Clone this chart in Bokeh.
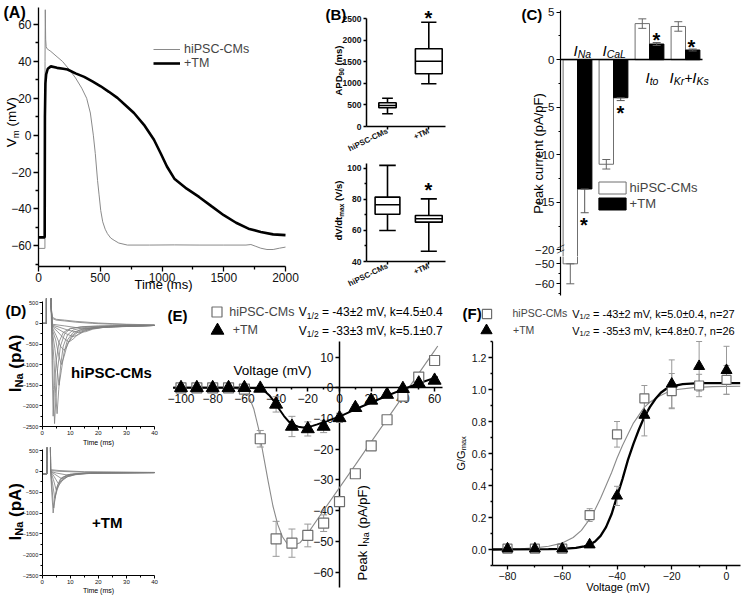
import math
from bokeh.plotting import figure
from bokeh.models import (Range1d, FixedTicker, Label, Legend, LegendItem, PrintfTickFormatter)
from bokeh.layouts import row, column
from bokeh.embed import file_html
from bokeh.resources import INLINE

FONT = "Liberation Sans"

# ======================= DATA =======================
# (A) action potentials: time (ms), Vm (mV)
a_time_hipsc = [0, 51, 52, 53, 55, 58, 62, 70, 100, 150, 194, 250, 300, 350, 390, 420, 444, 460,
                478, 490, 504, 520, 540, 558, 585, 612, 650, 720, 900, 1100, 1300, 1500, 1680,
                1720, 1760, 1800, 1850, 1900, 1950, 2000]
a_vm_hipsc = [-61.4, -61.4, -61.4, 40, 68, 52, 48, 46.8, 45.4, 42.5, 40, 35.5, 31, 25.5, 20, 12, 0, -10,
              -24.5, -32, -40.9, -47, -51, -53.4, -55.8, -57, -58.5, -59.6, -59.6, -59.5, -59.6, -59.6, -59.6,
              -59.3, -60.3, -61.3, -62, -62, -61.3, -60.7]
a_time_tm = [0, 49, 50, 52, 56, 62, 75, 100, 150, 200, 235, 300, 370, 440, 504, 570, 639, 700, 773, 854,
             935, 989, 1040, 1100, 1200, 1300, 1400, 1500, 1600, 1700, 1800, 1900, 2000]
a_vm_tm = [-55.4, -55.4, -55.4, 10, 28, 33, 36, 37.3, 36.5, 36, 35.6, 33.5, 31.6, 29, 26.5, 23.5, 20.2, 16.5, 12, 5.6,
           -2.5, -9.8, -17, -23.6, -29, -33.5, -38.5, -43.4, -47.5, -50.7, -52.5, -53.8, -54.2]

# (B) box plots, order: [hiPSC-CMs, +TM]
b_groups = ["hiPSC-CMs", "+TM"]
apd_min = [295, 991]
apd_q1 = [434, 1223]
apd_median = [487, 1516]
apd_q3 = [550, 1804]
apd_max = [657, 2421]
dvdt_min = [59.9, 46.6]
dvdt_q1 = [70.4, 65.3]
dvdt_median = [76.5, 67.5]
dvdt_q3 = [81.4, 69.6]
dvdt_max = [101.8, 80.3]

# (C) peak currents (pA/pF); error shown below / above the mean
c_currents = ["INa", "ICaL", "Ito", "IKr+IKs"]
c_hipsc_mean = [-50.0, -11.0, 3.8, 3.5]
c_hipsc_err_lo = [10.0, 0.5, 0.5, 0.5]
c_hipsc_err_hi = [0.0, 0.5, 0.5, 0.5]
c_tm_mean = [-13.6, -4.0, 1.65, 1.02]
c_tm_err_lo = [2.5, 0.3, 0.15, 0.1]
c_tm_err_hi = [0.0, 0.0, 0.15, 0.1]

# (D) INa current traces: time (ms), current (pA)
d_stim_time = [0, 1.5, 1.5, 2.9]
d_stim_hipsc = [0, 0, 3000, 3000]
d_hipsc_time = [
    [3.2, 3.6, 4.0, 4.4, 4.9, 5.5, 6.5, 8, 10, 14, 20, 30, 40],
    [3.2, 3.5, 3.9, 4.4, 5, 6, 7.5, 10, 15, 25, 40],
    [3.2, 3.6, 4.2, 4.8, 5.3, 5.9, 6.6, 7.5, 9, 11, 15, 25, 40],
    [3.2, 3.6, 4.5, 5.3, 6.0, 6.8, 7.8, 9, 11, 15, 25, 40],
    [3.2, 3.6, 4.8, 5.8, 6.8, 7.8, 9, 10.5, 13, 18, 30, 40],
    [3.2, 3.6, 5, 6.5, 7.7, 8.5, 9.5, 11, 13, 16, 22, 40],
    [3.2, 3.6, 5.5, 7.5, 9.5, 11, 13, 15, 20, 40],
    [3.2, 3.6, 6, 8.5, 11, 13, 15, 18, 25, 40],
    [3.2, 3.6, 6, 9, 13, 15.5, 18, 22, 30, 40],
    [3.2, 3.6, 8, 12, 16, 19, 24, 32, 40],
    [3.2, 3.6, 5, 8, 12, 18, 25, 40],
    [3.2, 3.6, 5, 8, 12, 20, 30, 40],
]
d_hipsc_current = [
    [400, -600, -1600, -2430, -1800, -1100, -550, -250, -130, -80, -60, -50, -45],
    [400, -900, -2250, -1500, -900, -450, -220, -120, -80, -60, -45],
    [400, -300, -900, -1700, -2190, -1600, -1000, -550, -280, -160, -100, -65, -50],
    [400, -200, -600, -1100, -1500, -1150, -700, -400, -220, -120, -70, -50],
    [400, -150, -400, -750, -1000, -800, -500, -300, -170, -100, -60, -50],
    [400, -100, -300, -550, -650, -600, -450, -300, -200, -140, -90, -50],
    [400, -80, -200, -350, -450, -380, -250, -170, -100, -50],
    [400, -60, -150, -250, -320, -270, -190, -120, -80, -50],
    [400, -40, -90, -160, -220, -200, -140, -95, -70, -50],
    [400, -20, -60, -100, -130, -110, -80, -60, -50],
    [400, 120, 80, 60, 30, 0, -20, -40],
    [400, 150, 100, 80, 50, 10, -20, -35],
]
d_stim_time_tm = [0, 1.7, 1.8, 2.7]
d_stim_tm = [-60, -60, 3000, 3000]
d_tm_time = [
    [3.0, 3.4, 3.9, 4.5, 5.2, 6.5, 9, 15, 40],
    [3.0, 3.5, 4.1, 4.8, 5.6, 7, 10, 18, 40],
    [3.0, 3.7, 4.5, 5.3, 6.3, 8, 11, 20, 40],
    [3.0, 4.0, 5.0, 6.0, 7.5, 9.5, 13, 22, 40],
    [3.0, 4.2, 5.8, 7.0, 9, 12, 16, 40],
    [3.0, 4.5, 7.0, 9, 12, 17, 40],
    [3.0, 5, 9, 13, 20, 40],
    [3.0, 6, 15, 40],
    [3.0, 6, 15, 40],
]
d_tm_current = [
    [0, -500, -1000, -650, -380, -180, -80, -40, -30],
    [0, -400, -880, -560, -320, -150, -70, -35, -30],
    [0, -300, -650, -450, -260, -130, -70, -35, -30],
    [0, -200, -450, -330, -190, -100, -55, -35, -30],
    [0, -120, -300, -230, -130, -70, -45, -30],
    [0, -70, -180, -130, -80, -50, -30],
    [0, -40, -90, -60, -40, -30],
    [20, 0, -20, -30],
    [40, 20, -10, -25],
]

# (E) I-V relation
e_voltage = [-100, -90, -80, -70, -60, -50, -40, -30, -20, -10, 0, 10, 20, 30, 40, 50, 60]
e_hipsc = [0, 0, 0, 0, -0.4, -16.6, -49.2, -50.6, -48.1, -44.1, -37.1, -28.0, -18.9, -10.4, -2.7, 3.5, 8.9]
e_hipsc_sem = [0.3, 0.3, 0.3, 0.3, 0.5, 2.7, 5.7, 4.6, 3.7, 2.7, 1.5, 1.2, 1.0, 0.8, 0.8, 0.8, 0.8]
e_tm = [0, 0, 0, 0, 0, -0.2, -5.4, -12.6, -13.4, -12.6, -9.8, -6.5, -4.1, -2.2, -0.3, 1.5, 2.4]
e_tm_sem = [0.2, 0.2, 0.2, 0.2, 0.2, 0.3, 2.5, 3.3, 2.3, 2.0, 1.5, 1.0, 0.8, 0.6, 0.5, 0.5, 0.5]
e_fit_hipsc_v = [-105, -70, -65, -60, -57, -54, -51, -48, -45, -42, -39, -36, -33, -30, -25, -20, -10, 0,
                 10, 20, 30, 40, 50, 60, 62]
e_fit_hipsc_i = [0, 0, -0.3, -1.2, -3, -7, -13.5, -22, -30.5, -38.5, -44.5, -48.5, -50.8, -51.6, -50.5, -47.4,
                 -39.9, -32.5, -25.1, -17.6, -10.2, -2.8, 4.7, 12.1, 13.6]
e_fit_tm_v = [-105, -60, -55, -50, -47, -44, -41, -38, -35, -32, -29, -26, -23, -20, -17, -14, -10, -5, 0,
              10, 20, 30, 40, 50, 60, 62]
e_fit_tm_i = [0, 0, -0.1, -0.4, -1.2, -2.6, -4.6, -7, -9.2, -11, -12.1, -12.7, -12.9, -12.8, -12.4, -11.9,
              -11.2, -10.3, -9.4, -7.0, -4.8, -2.6, -0.5, 1.5, 3.2, 3.5]
e_texts = ["V1/2 = -43±2 mV, k=4.5±0.4", "V1/2 = -33±3 mV, k=5.1±0.7"]

# (F) activation
f_voltage = [-80, -70, -60, -50, -40, -30, -20, -10, 0]
f_hipsc = [0.005, 0.005, 0.005, 0.215, 0.72, 0.945, 0.99, 1.025, 1.06]
f_hipsc_sem = [0.01, 0.01, 0.01, 0.04, 0.08, 0.08, 0.11, 0.07, 0.09]
f_tm = [0.005, 0.005, 0.005, 0.03, 0.335, 0.84, 1.035, 1.145, 1.12]
f_tm_sem = [0.01, 0.01, 0.01, 0.01, 0.06, 0.13, 0.15, 0.155, 0.15]
f_fit_hipsc_v = [-85.5, -75, -70, -65, -60, -56, -53, -50, -48, -46, -44, -42, -40, -38, -36, -34, -32, -30,
                 -28, -25, -22, -18, -12, -5, 5]
f_fit_hipsc_g = [0.001, 0.005, 0.01, 0.02, 0.04, 0.075, 0.12, 0.19, 0.25, 0.32, 0.4, 0.48, 0.57, 0.65, 0.72,
                 0.79, 0.84, 0.89, 0.92, 0.955, 0.98, 1.0, 1.012, 1.018, 1.02]
f_fit_tm_v = [-85.5, -65, -60, -55, -52, -50, -48, -46, -44, -42, -40, -38, -36, -34, -32, -30, -28, -26,
              -24, -22, -20, -16, -10, 5]
f_fit_tm_g = [0.0, 0.002, 0.004, 0.01, 0.02, 0.03, 0.05, 0.085, 0.14, 0.22, 0.33, 0.44, 0.56, 0.66, 0.75,
              0.83, 0.89, 0.94, 0.98, 1.005, 1.02, 1.033, 1.04, 1.04]
f_texts = ["V1/2 = -43±2 mV, k=5.0±0.4, n=27", "V1/2 = -35±3 mV, k=4.8±0.7, n=26"]

# ======================= HELPERS =======================
W = {' ': .278, '(': .333, ')': .333, '/': .278, '-': .333, '+': .584, '=': .584, '±': .584, ',': .278,
     '.': .278, '*': .389, 'A': .667, 'C': .722, 'D': .722, 'F': .611, 'G': .778, 'I': .278, 'K': .667,
     'L': .556, 'M': .833, 'N': .722, 'P': .667, 'S': .667, 'T': .611, 'V': .667, 'a': .556, 'c': .5,
     'd': .556, 'e': .556, 'g': .556, 'h': .556, 'i': .222, 'k': .5, 'l': .222, 'm': .833, 'n': .556,
     'o': .556, 'p': .556, 'r': .333, 's': .5, 't': .278, 'u': .556, 'x': .5}
WB = {'A': .722, 'd': .611, 'm': .889, 'p': .611, 's': .556, 't': .333, 'x': .556, 'i': .278, 'h': .611}


def tw(s, size, bold=False):
    return sum((WB[c] if bold and c in WB else W.get(c, .556)) for c in s) * size


def mk(origin, size, inner, xr, yr, xaxis_at=None, yaxis_at=None, xb=None, yb=None):
    """Figure whose frame fills the whole canvas; axes are drawn at fixed data locations."""
    ox, oy = origin
    w, h = size
    l, r, t, b = inner
    sx = (xr[1] - xr[0]) / (r - l)
    sy = (yr[1] - yr[0]) / (b - t)
    X0 = xr[0] - (l - ox) * sx
    X1 = xr[0] + (ox + w - l) * sx
    Y0 = yr[0] - (oy + h - b) * sy
    Y1 = yr[0] + (b - oy) * sy
    p = figure(width=w, height=h, x_range=Range1d(X0, X1), y_range=Range1d(Y0, Y1),
               output_backend="svg", toolbar_location=None, min_border=0,
               min_border_left=0, min_border_right=0, min_border_top=0, min_border_bottom=0)
    p.xgrid.visible = False
    p.ygrid.visible = False
    p.outline_line_color = None
    p.background_fill_color = "white"
    p.border_fill_color = "white"
    p.xaxis.fixed_location = yr[0] if xaxis_at is None else xaxis_at
    p.yaxis.fixed_location = xr[0] if yaxis_at is None else yaxis_at
    p.xaxis.bounds = tuple(xb) if xb else tuple(xr)
    p.yaxis.bounds = tuple(yb) if yb else tuple(yr)

    def m(px, py):
        return (xr[0] + (px - l) * sx, yr[0] + (b - py) * sy)
    return p, m


def leg_loc(origin, size, left_px, bottom_px):
    return (left_px - origin[0], origin[1] + size[1] - bottom_px)


def style_axis(ax, size, bold=False, lw=1.2, tout=4, mout=2, standoff=2):
    ax.axis_line_color = "black"
    ax.axis_line_width = lw
    ax.major_tick_line_color = "black"
    ax.major_tick_line_width = lw
    ax.major_tick_in = 0
    ax.major_tick_out = tout
    ax.minor_tick_line_color = "black"
    ax.minor_tick_line_width = lw
    ax.minor_tick_in = 0
    ax.minor_tick_out = mout
    ax.major_label_text_font = FONT
    ax.major_label_text_font_size = f"{size}px"
    ax.major_label_text_color = "#111111"
    ax.major_label_standoff = standoff
    ax.major_label_text_font_style = "bold" if bold else "normal"


def lab(p, m, px, py, text, size, bold=False, italic=False, angle=0.0, align="left",
        baseline="middle", color="black"):
    x, y = m(px, py)
    style = "bold italic" if (bold and italic) else ("bold" if bold else ("italic" if italic else "normal"))
    p.add_layout(Label(x=x, y=y, text=text, text_font=FONT, text_font_size=f"{size}px",
                       text_font_style=style, angle=angle, text_align=align,
                       text_baseline=baseline, text_color=color))


def vtext(p, m, px, py_bottom, pieces, bold=False):
    y = py_bottom
    for text, size, dx in pieces:
        if text.startswith(" "):
            y -= tw(" ", size, bold)
            text = text[1:]
        lab(p, m, px + dx, y, text, size, bold=bold, angle=math.pi / 2, align="left", baseline="middle")
        y -= tw(text, size, bold)


def htext(p, m, px, py, pieces, bold=False, italic=False, baseline="middle"):
    x = px
    for text, size, dy in pieces:
        if text.startswith(" "):
            x += tw(" ", size, bold)
            text = text[1:]
        lab(p, m, x, py + dy, text, size, bold=bold, italic=italic, baseline=baseline)
        x += tw(text, size, bold)


def star(p, m, px, py, size=20):
    lab(p, m, px, py + 0.22 * size, "*", size, bold=True, align="center", baseline="middle")


def errbars(p, x, y, elo, ehi, color, cap=7, lw=1):
    lo = [a - b for a, b in zip(y, elo)]
    hi = [a + b for a, b in zip(y, ehi)]
    p.segment(x0=x, y0=lo, x1=x, y1=hi, line_color=color, line_width=lw)
    p.scatter(x=x + x, y=lo + hi, marker="dash", size=cap, line_color=color, line_width=lw)


def make_legend(items, loc, gw, gh, standoff, size, spacing=0):
    return Legend(items=items, location=loc, padding=0, margin=0, spacing=spacing,
                  glyph_width=gw, glyph_height=gh, label_standoff=standoff,
                  label_height=8, label_width=8, label_text_font=FONT,
                  label_text_font_size=f"{size}px", border_line_alpha=0, background_fill_alpha=0)


GRAY = "#8a8a8a"

# ======================= (A) =======================
oA, sA = (0, 0), (320, 298)
pA, mA = mk(oA, sA, (38, 285, 7.4, 265.6), (0, 2000), (-71, 69))
style_axis(pA.xaxis[0], 12, lw=1.3, tout=5, mout=3)
style_axis(pA.yaxis[0], 12, lw=1.3, tout=5, mout=3)
pA.xaxis.ticker = FixedTicker(ticks=[0, 500, 1000, 1500, 2000], minor_ticks=[250, 750, 1250, 1750])
pA.yaxis.ticker = FixedTicker(ticks=[-60, -40, -20, 0, 20, 40, 60], minor_ticks=[-70, -50, -30, -10, 10, 30, 50])
ra1 = pA.line(a_time_hipsc, a_vm_hipsc, line_color=GRAY, line_width=1.0)
ra2 = pA.line(a_time_tm, a_vm_tm, line_color="black", line_width=2.6)
pA.add_layout(make_legend([LegendItem(label="hiPSC-CMs", renderers=[ra1]),
                           LegendItem(label="+TM", renderers=[ra2])],
                          leg_loc(oA, sA, 153, 70), 27, 12, 4, 12.5))
lab(pA, mA, 3, 12, "(A)", 16, bold=True)
vtext(pA, mA, 11, 146.7, [("V", 13.5, 0), ("m", 9.5, 3.5), (" (mV)", 13.5, 0)])
lab(pA, mA, 163, 284, "Time (ms)", 13, align="center")

# ======================= (B) =======================
def boxplot(p, lo, q1, med, q3, hi, widths, caps):
    xs = [1, 2]
    p.segment(x0=xs, y0=q3, x1=xs, y1=hi, line_color="black", line_width=1.6)
    p.segment(x0=xs, y0=lo, x1=xs, y1=q1, line_color="black", line_width=1.6)
    cx0 = [x - c / 2 for x, c in zip(xs, caps)]
    cx1 = [x + c / 2 for x, c in zip(xs, caps)]
    p.segment(x0=cx0 + cx0, y0=lo + hi, x1=cx1 + cx1, y1=lo + hi, line_color="black", line_width=1.6)
    p.vbar(x=xs, width=widths, bottom=q1, top=q3, fill_color="white", line_color="black", line_width=1.6)
    bx0 = [x - w / 2 for x, w in zip(xs, widths)]
    bx1 = [x + w / 2 for x, w in zip(xs, widths)]
    p.segment(x0=bx0, y0=med, x1=bx1, y1=med, line_color="black", line_width=1.6)


def style_b(p):
    style_axis(p.xaxis[0], 8, bold=True, lw=1.5, tout=3)
    style_axis(p.yaxis[0], 8.5, bold=True, lw=1.5, tout=3)
    p.xaxis.ticker = FixedTicker(ticks=[1, 2], minor_ticks=[])
    p.xaxis.major_label_overrides = {1: b_groups[0], 2: b_groups[1]}
    p.xaxis.major_label_orientation = 0.45
    p.xaxis.major_label_standoff = 1


oB1, sB1 = (320, 0), (140, 157)
pB1, mB1 = mk(oB1, sB1, (387, 428.3, 18.3, 126), (1, 2), (0, 2500),
              xaxis_at=0, yaxis_at=0.49, xb=(0.49, 2.40), yb=(0, 2500))
style_b(pB1)
pB1.yaxis.ticker = FixedTicker(ticks=[0, 500, 1000, 1500, 2000, 2500], minor_ticks=[])
boxplot(pB1, apd_min, apd_q1, apd_median, apd_q3, apd_max, [0.42, 0.65], [0.26, 0.37])
star(pB1, mB1, 428, 13)
lab(pB1, mB1, 325, 14, "(B)", 15, bold=True)
vtext(pB1, mB1, 338, 95, [("APD", 9.5, 0), ("90", 6.5, 2.5), (" (ms)", 9.5, 0)], bold=True)

oB2, sB2 = (320, 157), (140, 141)
pB2, mB2 = mk(oB2, sB2, (387, 428.3, 167.7, 261), (1, 2), (40, 100),
              xaxis_at=40, yaxis_at=0.49, xb=(0.49, 2.40), yb=(40, 103.2))
style_b(pB2)
pB2.yaxis.ticker = FixedTicker(ticks=[40, 60, 80, 100], minor_ticks=[50, 70, 90])
boxplot(pB2, dvdt_min, dvdt_q1, dvdt_median, dvdt_q3, dvdt_max, [0.6, 0.65], [0.4, 0.39])
star(pB2, mB2, 428, 185)
vtext(pB2, mB2, 338, 240, [("dV/dt", 9.5, 0), ("max", 6.5, 2.5), (" (V/s)", 9.5, 0)], bold=True)

# ======================= (C) =======================
c_idx = list(range(len(c_currents)))
c_xh = [i - 0.2 for i in c_idx]
c_xt = [i + 0.2 for i in c_idx]

oC1, sC1 = (460, 0), (288, 256)
oC2, sC2 = (460, 256), (288, 42)
pC1, mC1 = mk(oC1, sC1, (577, 685, 11.7, 249.3), (0, 3), (-20, 5),
              xaxis_at=0, yaxis_at=-0.472, xb=(-0.472, 3.472), yb=(-20.2, 5.2))
pC2, mC2 = mk(oC2, sC2, (577, 685, 263.3, 283.3), (0, 3), (-60, -50),
              yaxis_at=-0.472, xb=(-0.472, 3.472), yb=(-65.8, -46.3))
for p in (pC1, pC2):
    style_axis(p.yaxis[0], 11.5, lw=1.2)
pC1.yaxis.ticker = FixedTicker(ticks=[-20, -15, -10, -5, 0, 5],
                               minor_ticks=[-17.5, -12.5, -7.5, -2.5, 2.5])
pC2.yaxis.ticker = FixedTicker(ticks=[-60, -50], minor_ticks=[-65, -55])
style_axis(pC1.xaxis[0], 1, lw=1.3, tout=0, mout=0)
pC1.xaxis.ticker = FixedTicker(ticks=[], minor_ticks=[])
pC2.xaxis.visible = False


def draw_bars(p, sel_h, sel_t):
    pick = lambda seq, sel: [seq[i] for i in sel]
    rh = p.vbar(x=pick(c_xh, sel_h), top=pick(c_hipsc_mean, sel_h), bottom=0, width=0.4,
                fill_color="white", line_color="#6f6f6f", line_width=1)
    rt = p.vbar(x=pick(c_xt, sel_t), top=pick(c_tm_mean, sel_t), bottom=0, width=0.4,
                fill_color="black", line_color="black")
    errbars(p, pick(c_xh, sel_h), pick(c_hipsc_mean, sel_h), pick(c_hipsc_err_lo, sel_h),
            pick(c_hipsc_err_hi, sel_h), "#666666", cap=8)
    errbars(p, pick(c_xt, sel_t), pick(c_tm_mean, sel_t), pick(c_tm_err_lo, sel_t),
            pick(c_tm_err_hi, sel_t), "#555555", cap=8)
    return rh, rt


rh, rt = draw_bars(pC1, c_idx, c_idx)
# lower (broken) segment only shows the bars that reach below the break
c2_top = mC2(0, oC2[1])[1]
sel_h2 = [i for i in c_idx if c_hipsc_mean[i] - c_hipsc_err_lo[i] < c2_top]
sel_t2 = [i for i in c_idx if c_tm_mean[i] - c_tm_err_lo[i] < c2_top]
draw_bars(pC2, sel_h2, sel_t2)
pC1.add_layout(make_legend([LegendItem(label="hiPSC-CMs", renderers=[rh]),
                            LegendItem(label="+TM", renderers=[rt])],
                           leg_loc(oC1, sC1, 594.6, 211.3), 34, 15, 1, 13, spacing=1))
# current names
htext(pC1, mC1, 573, 50, [("I", 15, 0), ("Na", 10.5, 3.5)], italic=True, baseline="alphabetic")
htext(pC1, mC1, 602, 50, [("I", 15, 0), ("CaL", 10.5, 3.5)], italic=True, baseline="alphabetic")
htext(pC1, mC1, 645, 77, [("I", 15, 0), ("to", 10.5, 3.5)], italic=True, baseline="alphabetic")
htext(pC1, mC1, 669, 77, [("I", 15, 0), ("Kr", 10.5, 3.5), ("+", 14, 0), ("I", 15, 0), ("Ks", 10.5, 3.5)],
      italic=True, baseline="alphabetic")
star(pC1, mC1, 583.5, 220)
star(pC1, mC1, 620, 108)
star(pC1, mC1, 656, 35)
star(pC1, mC1, 691, 42)
lab(pC1, mC1, 521, 14, "(C)", 15, bold=True)
lab(pC1, mC1, 538, 153, "Peak current (pA/pF)", 13, angle=math.pi / 2, align="center")
lab(pC1, mC1, 560, 245.5, "\u2014", 8, angle=0.45, align="center")
lab(pC1, mC1, 560, 250.5, "\u2014", 8, angle=0.45, align="center")

# ======================= (D) =======================
def style_d(p):
    style_axis(p.xaxis[0], 6, lw=1, tout=3, mout=2, standoff=1)
    style_axis(p.yaxis[0], 5.5, lw=1, tout=3, mout=2, standoff=1)
    p.xaxis.ticker = FixedTicker(ticks=[0, 10, 20, 30, 40], minor_ticks=[5, 15, 25, 35])
    p.yaxis.ticker = FixedTicker(ticks=[500, 0, -500, -1000, -1500, -2000, -2500],
                                 minor_ticks=[250, -250, -750, -1250, -1750, -2250])


oD1, sD1 = (0, 298), (165, 149)
pD1, mD1 = mk(oD1, sD1, (41.7, 154, 302.3, 426), (0, 40), (-2500, 500), yb=(-2500, 525))
style_d(pD1)
pD1.multi_line([d_stim_time + t for t in d_hipsc_time], [d_stim_hipsc + c for c in d_hipsc_current],
               line_color="#7d7d7d", line_width=0.8)
lab(pD1, mD1, 5, 310, "(D)", 15, bold=True)
vtext(pD1, mD1, 14.5, 391.7, [("I", 17, 0), ("Na", 11, 4), (" (pA)", 17, 0)], bold=True)
lab(pD1, mD1, 111, 371.7, "hiPSC-CMs", 15, bold=True, align="center")
lab(pD1, mD1, 98, 441.5, "Time (ms)", 7, align="center")

oD2, sD2 = (0, 447), (165, 150)
pD2, mD2 = mk(oD2, sD2, (41.7, 154, 450, 575), (0, 40), (-2500, 500), yb=(-2500, 520))
style_d(pD2)
pD2.multi_line([d_stim_time_tm + t for t in d_tm_time], [d_stim_tm + c for c in d_tm_current],
               line_color="#7d7d7d", line_width=0.8)
vtext(pD2, mD2, 14.5, 540, [("I", 17, 0), ("Na", 11, 4), (" (pA)", 17, 0)], bold=True)
lab(pD2, mD2, 106.7, 521.7, "+TM", 15, bold=True, align="center")
lab(pD2, mD2, 98, 590, "Time (ms)", 7, align="center")

# ======================= (E) =======================
oE, sE = (165, 298), (289, 299)
pE, mE = mk(oE, sE, (180.5, 434.1, 356.6, 571.5), (-100, 60), (-60, 10),
            xaxis_at=0, yaxis_at=0, xb=(-105, 65), yb=(-65, 15))
style_axis(pE.xaxis[0], 12, lw=1.5)
style_axis(pE.yaxis[0], 12, lw=1.5)
pE.xaxis.level = "underlay"
pE.yaxis.level = "underlay"
pE.xaxis.ticker = FixedTicker(ticks=[-100, -80, -60, -40, -20, 0, 20, 40, 60],
                              minor_ticks=[-90, -70, -50, -30, -10, 10, 30, 50])
pE.yaxis.ticker = FixedTicker(ticks=[-60, -50, -40, -30, -20, -10, 0, 10], minor_ticks=[])
pE.line(e_fit_hipsc_v, e_fit_hipsc_i, line_color=GRAY, line_width=1.1)
pE.line(e_fit_tm_v, e_fit_tm_i, line_color="black", line_width=2)
errbars(pE, e_voltage, e_hipsc, e_hipsc_sem, e_hipsc_sem, "#999999", cap=7)
errbars(pE, e_voltage, e_tm, e_tm_sem, e_tm_sem, "#999999", cap=7)
reS = pE.scatter(e_voltage, e_hipsc, marker="square", size=10, fill_color="white",
                 line_color="#6e6e6e", line_width=1.2)
reT = pE.scatter(e_voltage, e_tm, marker="triangle", size=13, fill_color="black", line_color="black")
pE.add_layout(make_legend([LegendItem(label="hiPSC-CMs", renderers=[reS])],
                          leg_loc(oE, sE, 204.2, 324.2), 25, 25, -4, 12.5))
pE.add_layout(make_legend([LegendItem(label="+TM", renderers=[reT])],
                          leg_loc(oE, sE, 200.7, 346), 32, 32, -7, 12.5))
for txt, yy in zip(e_texts, [311.7, 330]):
    head, rest = txt.split("1/2")
    htext(pE, mE, 298.3, yy, [(head, 12, 0), ("1/2", 8.5, 3.5), (rest, 12, 0)])
lab(pE, mE, 167, 315, "(E)", 15, bold=True)
lab(pE, mE, 272, 370, "Voltage (mV)", 13.5, align="center")
vtext(pE, mE, 361.7, 580, [("Peak I", 13, 0), ("Na", 9, 3.5), (" (pA/pF)", 13, 0)])

# ======================= (F) =======================
oF, sF = (454, 298), (294, 299)
pF, mF = mk(oF, sF, (507, 726, 357, 549), (-80, 0), (0, 1.2),
            xaxis_at=-0.1, yaxis_at=-85.5, xb=(-85.5, 5), yb=(-0.1, 1.3))
style_axis(pF.xaxis[0], 10.5, lw=1.3)
style_axis(pF.yaxis[0], 10.5, lw=1.3)
pF.xaxis.ticker = FixedTicker(ticks=[-80, -60, -40, -20, 0], minor_ticks=[-70, -50, -30, -10])
pF.yaxis.ticker = FixedTicker(ticks=[0, 0.2, 0.4, 0.6, 0.8, 1.0, 1.2],
                              minor_ticks=[-0.1, 0.1, 0.3, 0.5, 0.7, 0.9, 1.1, 1.3])
pF.yaxis.formatter = PrintfTickFormatter(format="%.1f")
pF.line(f_fit_hipsc_v, f_fit_hipsc_g, line_color=GRAY, line_width=1.1)
pF.line(f_fit_tm_v, f_fit_tm_g, line_color="black", line_width=2.3)
errbars(pF, f_voltage, f_hipsc, f_hipsc_sem, f_hipsc_sem, "#999999", cap=6)
errbars(pF, f_voltage, f_tm, f_tm_sem, f_tm_sem, "#999999", cap=6)
rfS = pF.scatter(f_voltage, f_hipsc, marker="square", size=9, fill_color="white",
                 line_color="#6e6e6e", line_width=1.2)
rfT = pF.scatter(f_voltage, f_tm, marker="triangle", size=11, fill_color="black", line_color="black")
pF.add_layout(make_legend([LegendItem(label="hiPSC-CMs", renderers=[rfS])],
                          leg_loc(oF, sF, 474.5, 324.8), 23, 23, 15, 10.5))
pF.add_layout(make_legend([LegendItem(label="+TM", renderers=[rfT])],
                          leg_loc(oF, sF, 472, 344), 28, 28, 13, 10.5))
for txt, yy in zip(f_texts, [313.3, 330]):
    head, rest = txt.split("1/2")
    htext(pF, mF, 571.7, yy, [(head, 11, 0), ("1/2", 7.5, 3), (rest, 11, 0)])
lab(pF, mF, 462, 313, "(F)", 15, bold=True)
lab(pF, mF, 617.5, 586, "Voltage (mV)", 11, align="center")
vtext(pF, mF, 460, 470, [("G/G", 11, 0), ("max", 7.5, 3)])

# ======================= LAYOUT =======================
top = row(pA, column(pB1, pB2), column(pC1, pC2))
bottom = row(column(pD1, pD2), pE, pF)
layout = column(top, bottom)
open("out.html", "w").write(file_html(layout, INLINE, "Figure"))
